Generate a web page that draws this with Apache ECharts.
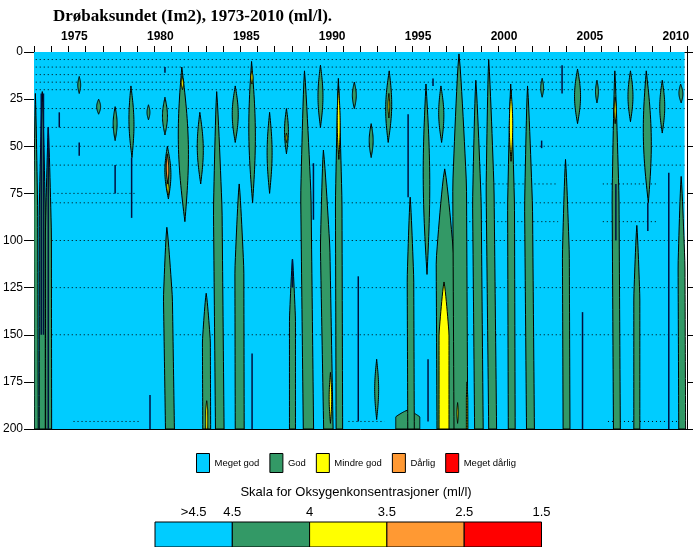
<!DOCTYPE html>
<html>
<head>
<meta charset="utf-8">
<title>Drøbaksundet</title>
<script src="https://cdn.jsdelivr.net/npm/echarts@6/dist/echarts.min.js"></script>
<style>
  html, body { margin: 0; padding: 0; background: #fff; }
  #main { width: 696px; height: 547px; }
</style>
</head>
<body>
<div id="main"></div>
<script>
// klasser og farger
const classNames = ['Meget god', 'God', 'Mindre god', 'Dårlig', 'Meget dårlig'];
const classColors = ['#00CCFF', '#339966', '#FFFF00', '#FF9933', '#FF0000'];
const scaleLabels = ['>4.5', '4.5', '4', '3.5', '2.5', '1.5'];

// [år fra, år til, dyp fra, dyp til]
const background = [[1973, 2010.86, 0, 200]];

// prøvedyp (stiplet): [dyp, år fra, år til]
const sampleDepths = [
  [4, 1973.1, 2010.86], [8, 1973.1, 2010.86], [12, 1973.1, 2010.86],
  [16, 1973.1, 2010.86], [20, 1973.1, 2010.86], [30, 1973.1, 2010.86],
  [40, 1973.1, 2010.86], [50, 1973.1, 2010.86], [60, 1973.1, 2010.86],
  [70, 1999.1, 2003.5], [70, 2006.1, 2009.2], [75, 1973.9, 1978.9],
  [80, 1973.1, 2010.86], [90, 1998.1, 2003.5], [90, 2006.1, 2009.2],
  [100, 1973.1, 2010.86], [125, 1973.1, 2010.86], [150, 1973.1, 2010.86],
  [196, 1975.3, 1979.2], [196, 1991.3, 1993.4], [196, 2006.4, 2010.8]
];

// [år topp, år bunn, dyp topp, dyp bunn, bredde (år)]
const godBands = [
  [1973.08, 1973.13, 22, 200, 0.23], [1973.48, 1973.48, 21, 200, 0.35],
  [1973.83, 1973.85, 40, 200, 0.35], [1975.63, 1975.63, 13, 22, 0.17],
  [1976.76, 1976.76, 25, 33, 0.23], [1977.72, 1977.72, 29, 47, 0.23],
  [1978.64, 1978.70, 18, 56, 0.29], [1979.66, 1979.66, 28, 36, 0.17],
  [1980.62, 1980.62, 24, 44, 0.29], [1980.76, 1980.82, 50, 78, 0.35],
  [1980.73, 1980.91, 93, 200, 0.52], [1981.60, 1981.78, 8, 90, 0.58],
  [1982.65, 1982.70, 32, 70, 0.35], [1983.02, 1983.05, 128, 200, 0.46],
  [1983.63, 1983.81, 21, 200, 0.5], [1984.71, 1984.71, 18, 48, 0.35],
  [1984.94, 1984.97, 70, 200, 0.52], [1985.66, 1985.72, 5, 80, 0.38],
  [1986.71, 1986.71, 32, 75, 0.29], [1987.69, 1987.69, 30, 54, 0.23],
  [1988.04, 1988.04, 110, 200, 0.35], [1988.74, 1988.97, 10, 200, 0.6],
  [1989.67, 1989.67, 7, 40, 0.29], [1989.84, 1990.13, 52, 200, 0.55],
  [1990.71, 1990.77, 14, 200, 0.38], [1991.64, 1991.64, 16, 30, 0.23],
  [1992.62, 1992.62, 38, 56, 0.23], [1993.67, 1993.61, 10, 48, 0.35],
  [1992.94, 1992.94, 163, 195, 0.23], [1994.75, 1994.75, 190, 200, 1.4],
  [1994.89, 1994.94, 77, 200, 0.38], [1995.81, 1995.87, 17, 118, 0.38],
  [1996.68, 1996.72, 18, 48, 0.3], [1996.90, 1996.97, 62, 200, 1.04],
  [1997.73, 1997.84, 1, 200, 0.8], [1998.71, 1998.89, 15, 200, 0.5],
  [1999.46, 1999.69, 4, 200, 0.46], [2000.74, 2000.80, 17, 200, 0.4],
  [2001.72, 2001.89, 18, 200, 0.46], [2002.57, 2002.57, 14, 24, 0.17],
  [2004.63, 2004.63, 9, 38, 0.35], [2003.93, 2003.99, 57, 200, 0.4],
  [2005.76, 2005.76, 15, 27, 0.17], [2006.80, 2006.92, 10, 200, 0.4],
  [2007.71, 2007.71, 10, 37, 0.29], [2008.08, 2008.08, 92, 200, 0.35],
  [2008.63, 2008.75, 10, 80, 0.46], [2009.56, 2009.56, 15, 43, 0.29],
  [2010.63, 2010.66, 17, 27, 0.23], [2010.66, 2010.72, 66, 200, 0.4]
];

const mindreGodBands = [
  [1981.62, 1981.64, 13, 20, 0.12], [1980.76, 1980.82, 68, 76, 0.12],
  [1983.05, 1983.05, 185, 200, 0.12], [1985.68, 1985.68, 10, 17, 0.12],
  [1987.69, 1987.69, 43, 48, 0.08], [1990.25, 1990.25, 170, 197, 0.15],
  [1990.72, 1990.74, 18, 57, 0.17], [1993.65, 1993.65, 22, 35, 0.1],
  [1996.86, 1996.86, 122, 200, 0.58], [1997.65, 1997.65, 186, 197, 0.08],
  [1998.2, 1998.2, 175, 200, 0.08], [2000.76, 2000.76, 20, 58, 0.2],
  [2006.82, 2006.82, 24, 38, 0.12]
];

const darligBands = [[1980.75, 1980.79, 54, 70, 0.15]];
const megetDarligBands = [];

// mørke konturstreker: [år, dyp fra, dyp til]
const contourStreaks = [
  [1973.42, 22, 150], [1973.55, 22, 150], [1973.83, 40, 200],
  [1974.47, 32, 40], [1975.63, 48, 55], [1977.72, 60, 75],
  [1978.68, 56, 88], [1979.75, 182, 200], [1980.62, 8, 11],
  [1985.69, 160, 200], [1988.04, 110, 125], [1989.26, 59, 89],
  [1991.87, 119, 196], [1994.77, 33, 77], [1995.93, 163, 196],
  [1996.22, 14, 18], [2002.54, 47, 51], [2003.73, 7, 22],
  [2004.92, 138, 200], [2006.86, 70, 100], [2008.72, 80, 95],
  [2009.94, 64, 200]
];

const FONT = 'Liberation Sans, Arial, sans-serif';

function bandRender(color) {
  return function (params, api) {
    const yTop = api.value(0), yBot = api.value(1);
    const dTop = api.value(2), dBot = api.value(3), w = api.value(4);
    const n = 30, left = [], right = [];
    for (let i = 0; i <= n; i++) {
      const t = i / n;
      const d = dTop + (dBot - dTop) * t;
      const c = yTop + (yBot - yTop) * t;
      const p = dBot >= 200 ? Math.pow(Math.min(1, t / 0.35), 0.8) : Math.sin(Math.PI * t);
      left.push(api.coord([c - (w / 2) * p, d]));
      right.unshift(api.coord([c + (w / 2) * p, d]));
    }
    return {
      type: 'polygon',
      shape: { points: left.concat(right) },
      style: { fill: color, stroke: '#000', lineWidth: 1 }
    };
  };
}

function bandSeries(name, color, data) {
  return {
    name: name,
    type: 'custom',
    clip: true,
    itemStyle: { color: color },
    renderItem: bandRender(color),
    data: data
  };
}

const chart = echarts.init(document.getElementById('main'));

// fargeskala under figuren
const barLeft = 155, segW = 77.3, barTop = 522, barH = 25;
const scaleElements = [{
  type: 'text', x: 356, y: 492,
  style: { text: 'Skala for Oksygenkonsentrasjoner (ml/l)', font: '13px ' + FONT, fill: '#000',
    align: 'center', verticalAlign: 'middle', textAlign: 'center', textVerticalAlign: 'middle' }
}];
classColors.forEach(function (c, i) {
  scaleElements.push({
    type: 'rect',
    shape: { x: barLeft + i * segW, y: barTop, width: segW, height: barH },
    style: { fill: c, stroke: '#000', lineWidth: 1 }
  });
});
scaleLabels.forEach(function (lab, i) {
  const x = i === 0 ? barLeft + segW / 2 : barLeft + i * segW;
  scaleElements.push({
    type: 'text', x: x, y: 512,
    style: { text: lab, font: '13px ' + FONT, fill: '#000',
      align: 'center', verticalAlign: 'middle', textAlign: 'center', textVerticalAlign: 'middle' }
  });
});

const option = {
  animation: false,
  backgroundColor: '#fff',
  title: {
    text: 'Drøbaksundet (Im2), 1973-2010 (ml/l).',
    left: 48, top: 3,
    textStyle: { fontFamily: 'Liberation Serif, Times New Roman, serif', fontWeight: 'bold', fontSize: 17, color: '#000' }
  },
  legend: {
    data: classNames,
    left: 191, top: 448,
    itemWidth: 13, itemHeight: 19, itemGap: 10,
    icon: 'rect',
    selectedMode: false,
    itemStyle: { borderColor: '#000', borderWidth: 1 },
    textStyle: { fontFamily: FONT, fontSize: 9.5, color: '#000' }
  },
  grid: { left: 32, right: 9, top: 52, bottom: 118 },
  xAxis: [{
    type: 'value', position: 'top', min: 1973, max: 2011, interval: 1,
    axisLine: { show: true, lineStyle: { color: '#000', width: 1 } },
    axisTick: { show: true, length: 6, lineStyle: { color: '#000' } },
    splitLine: { show: false },
    axisLabel: {
      margin: 9, color: '#000', fontFamily: FONT, fontWeight: 'bold', fontSize: 12,
      padding: [0, 0, 0, 12],
      formatter: function (v) { return v % 5 === 0 ? String(v) : ''; }
    }
  }, {
    type: 'value', position: 'bottom', min: 1973, max: 2011,
    axisLine: { show: true, onZero: false, lineStyle: { color: '#000', width: 1 } },
    axisTick: { show: false }, axisLabel: { show: false }, splitLine: { show: false }
  }],
  yAxis: [{
    type: 'value', inverse: true, position: 'left', min: 0, max: 200, interval: 25,
    axisLine: { show: true, lineStyle: { color: '#000', width: 1 } },
    axisTick: { show: true, length: 10, lineStyle: { color: '#000' } },
    splitLine: { show: false },
    axisLabel: { margin: 11, color: '#000', fontFamily: FONT, fontSize: 12 }
  }, {
    type: 'value', inverse: true, position: 'right', min: 0, max: 200, interval: 25,
    axisLine: { show: true, lineStyle: { color: '#000', width: 1 } },
    axisTick: { show: true, length: 6, lineStyle: { color: '#000' } },
    axisLabel: { show: false }, splitLine: { show: false }
  }],
  graphic: { elements: scaleElements },
  series: [
    {
      name: classNames[0], type: 'custom', clip: true,
      itemStyle: { color: classColors[0] },
      renderItem: function (params, api) {
        const p0 = api.coord([api.value(0), api.value(2)]);
        const p1 = api.coord([api.value(1), api.value(3)]);
        return { type: 'rect', shape: { x: p0[0], y: p0[1], width: p1[0] - p0[0], height: p1[1] - p0[1] },
          style: { fill: classColors[0] } };
      },
      data: background
    },
    {
      name: 'prøvedyp', type: 'custom', clip: true,
      renderItem: function (params, api) {
        const a = api.coord([api.value(1), api.value(0)]);
        const b = api.coord([api.value(2), api.value(0)]);
        return { type: 'line', shape: { x1: a[0], y1: a[1], x2: b[0], y2: b[1] },
          style: { stroke: '#000', lineWidth: 1, lineDash: [1, 3] } };
      },
      data: sampleDepths
    },
    bandSeries(classNames[1], classColors[1], godBands),
    bandSeries(classNames[2], classColors[2], mindreGodBands),
    bandSeries(classNames[3], classColors[3], darligBands),
    bandSeries(classNames[4], classColors[4], megetDarligBands),
    {
      name: 'kontur', type: 'custom', clip: true,
      renderItem: function (params, api) {
        const a = api.coord([api.value(0), api.value(1)]);
        const b = api.coord([api.value(0), api.value(2)]);
        return { type: 'line', shape: { x1: a[0], y1: a[1], x2: b[0], y2: b[1] },
          style: { stroke: '#001040', lineWidth: 1.5 } };
      },
      data: contourStreaks
    }
  ]
};

chart.setOption(option);
</script>
</body>
</html>
